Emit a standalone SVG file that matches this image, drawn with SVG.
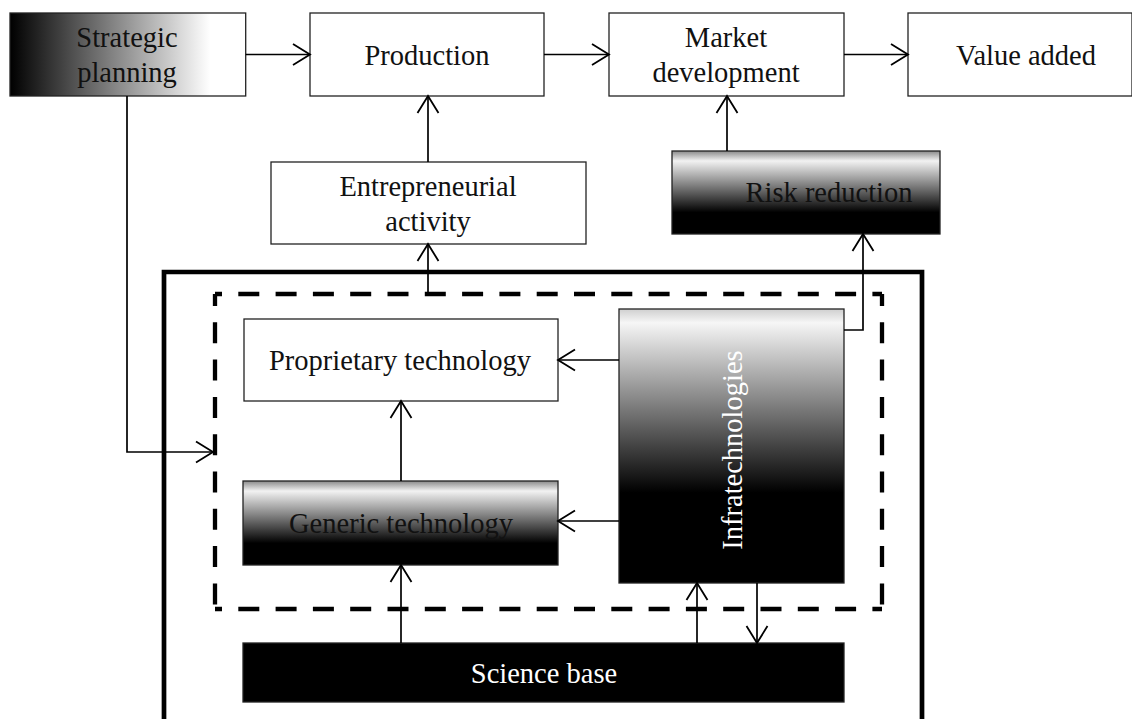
<svg xmlns="http://www.w3.org/2000/svg" width="1132" height="719" viewBox="0 0 1132 719">
<style>
.box{stroke:#222;stroke-width:1.3}
.t{font-family:"Liberation Serif","Times New Roman",serif;font-size:28.5px;fill:#111;text-anchor:middle}
.w{fill:#fff}
.c{fill:none;stroke:#000;stroke-width:1.7}
.dash{fill:none;stroke:#000;stroke-width:4.3;stroke-dasharray:21 16.3}
</style>
<defs>
<marker id="arr" markerUnits="userSpaceOnUse" markerWidth="24" markerHeight="26" viewBox="-20 -13 22 26" refX="0" refY="0" orient="auto">
<path d="M-17,-10.5 L0,0 L-17,10.5" fill="none" stroke="#000" stroke-width="1.8"/>
</marker>
<linearGradient id="gH" x1="0" y1="0" x2="1" y2="0">
<stop offset="0" stop-color="#000"/>
<stop offset="0.85" stop-color="#fff"/>
<stop offset="1" stop-color="#fff"/>
</linearGradient>
<linearGradient id="gV" x1="0" y1="0" x2="0" y2="1">
<stop offset="0" stop-color="#8a8a8a"/>
<stop offset="0.12" stop-color="#f2f2f2"/>
<stop offset="0.74" stop-color="#000"/>
<stop offset="1" stop-color="#000"/>
</linearGradient>
<linearGradient id="gI" x1="0" y1="0" x2="0" y2="1">
<stop offset="0" stop-color="#cfcfcf"/>
<stop offset="0.05" stop-color="#f6f6f6"/>
<stop offset="0.67" stop-color="#000"/>
<stop offset="1" stop-color="#000"/>
</linearGradient>
</defs>

<g id="frames">
<polyline points="164,740 164,272 922,272 922,740" fill="none" stroke="#000" stroke-width="4.7"/>
<line class="dash" x1="215" y1="294" x2="882" y2="294" stroke-dashoffset="14"/>
<line class="dash" x1="215" y1="294" x2="215" y2="609" stroke-dashoffset="9"/>
<line class="dash" x1="882" y1="294" x2="882" y2="609" stroke-dashoffset="9"/>
<line class="dash" x1="215" y1="609" x2="882" y2="609" stroke-dashoffset="14"/>
</g>

<g id="strategic-planning">
<rect class="box" x="10" y="13" width="235.7" height="83" fill="url(#gH)"/>
<text class="t" x="127" y="46.5">Strategic</text>
<text class="t" x="127" y="82">planning</text>
</g>
<g id="production">
<rect class="box" x="310" y="13" width="234" height="83" fill="#fff"/>
<text class="t" x="427" y="65">Production</text>
</g>
<g id="market-development">
<rect class="box" x="609" y="13" width="235" height="83" fill="#fff"/>
<text class="t" x="726" y="46.5">Market</text>
<text class="t" x="726" y="82">development</text>
</g>
<g id="value-added">
<rect class="box" x="908" y="13" width="224" height="83" fill="#fff"/>
<text class="t" x="1026" y="65">Value added</text>
</g>
<g id="entrepreneurial-activity">
<rect class="box" x="271" y="162" width="315" height="82" fill="#fff"/>
<text class="t" x="428" y="196">Entrepreneurial</text>
<text class="t" x="428" y="231">activity</text>
</g>
<g id="risk-reduction">
<rect class="box" x="672" y="151" width="268" height="83" fill="url(#gV)"/>
<text class="t" x="829" y="202">Risk reduction</text>
</g>
<g id="proprietary-technology">
<rect class="box" x="244" y="319" width="314" height="82" fill="#fff"/>
<text class="t" x="400" y="370">Proprietary technology</text>
</g>
<g id="generic-technology">
<rect class="box" x="243" y="481" width="315" height="84" fill="url(#gV)"/>
<text class="t" x="401" y="533">Generic technology</text>
</g>
<g id="infratechnologies">
<rect class="box" x="619" y="309" width="225" height="274" fill="url(#gI)"/>
<text class="t w" x="742" y="450" transform="rotate(-90 742 450)">Infratechnologies</text>
</g>
<g id="science-base">
<rect class="box" x="243" y="643" width="601" height="59" fill="#000"/>
<text class="t w" x="544" y="683">Science base</text>
</g>

<g id="connectors">
<line class="c" x1="245.7" y1="54.5" x2="310" y2="54.5" marker-end="url(#arr)"/>
<line class="c" x1="544" y1="54.5" x2="609" y2="54.5" marker-end="url(#arr)"/>
<line class="c" x1="844" y1="54.5" x2="908" y2="54.5" marker-end="url(#arr)"/>
<line class="c" x1="428" y1="162" x2="428" y2="96" marker-end="url(#arr)"/>
<line class="c" x1="428" y1="294" x2="428" y2="244" marker-end="url(#arr)"/>
<line class="c" x1="727" y1="151" x2="727" y2="96" marker-end="url(#arr)"/>
<polyline class="c" points="844,330 863,330 863,234" marker-end="url(#arr)"/>
<polyline class="c" points="127,96 127,452 213,452" marker-end="url(#arr)"/>
<line class="c" x1="619" y1="360" x2="558" y2="360" marker-end="url(#arr)"/>
<line class="c" x1="619" y1="521" x2="558" y2="521" marker-end="url(#arr)"/>
<line class="c" x1="401" y1="481" x2="401" y2="401" marker-end="url(#arr)"/>
<line class="c" x1="401" y1="643" x2="401" y2="565" marker-end="url(#arr)"/>
<line class="c" x1="697" y1="643" x2="697" y2="583" marker-end="url(#arr)"/>
<line class="c" x1="757" y1="583" x2="757" y2="643" marker-end="url(#arr)"/>
</g>
</svg>
